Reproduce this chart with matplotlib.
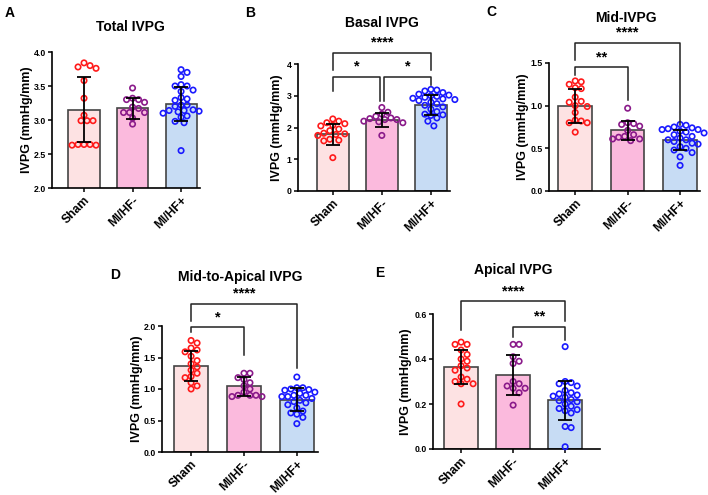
import matplotlib
matplotlib.use("Agg")
import matplotlib.pyplot as plt
import numpy as np

plt.rcParams['font.family'] = ['Liberation Sans', 'DejaVu Sans']
plt.rcParams['font.weight'] = 'bold'

W, H = 708, 495

groups = ["Sham", "MI/HF-", "MI/HF+"]
fill_colors = ["#fde2e3", "#fbbadd", "#c7dcf4"]
dot_colors = ["#ff1a1a", "#8a1a8a", "#1a1aff"]

# values, one list per group
total_sham = [3.80, 3.84, 3.76, 3.78, 3.58, 3.32, 3.07, 2.99, 2.99, 2.99, 2.63, 2.64, 2.64, 2.64, 2.63]
total_hfm = [3.30, 3.47, 3.32, 3.30, 3.26, 3.19, 3.17, 3.11, 3.11, 3.11, 3.03, 2.94]
total_hfp = [3.74, 3.70, 3.64, 3.52, 3.50, 3.50, 3.44, 3.42, 3.33, 3.31, 3.29, 3.22, 3.22,
             3.20, 3.15, 3.14, 3.14, 3.13, 3.12, 3.10, 3.06, 3.04, 2.98, 2.96, 2.55]
total_mean = [3.15, 3.17, 3.24]
total_sd = [0.48, 0.16, 0.25]

basal_sham = [2.27, 2.20, 2.15, 2.12, 2.07, 2.05, 1.95, 1.90, 1.82, 1.80, 1.78, 1.75, 1.63, 1.60, 1.58, 1.05]
basal_hfm = [2.63, 2.48, 2.42, 2.35, 2.30, 2.28, 2.25, 2.25, 2.20, 2.18, 2.15, 1.75]
basal_hfp = [3.20, 3.18, 3.15, 3.10, 3.05, 3.02, 3.00, 2.98, 2.95, 2.92, 2.90, 2.88, 2.85,
             2.80, 2.75, 2.70, 2.65, 2.58, 2.50, 2.42, 2.40, 2.38, 2.30, 2.20, 2.05]
basal_mean = [1.78, 2.24, 2.71]
basal_sd = [0.33, 0.22, 0.32]

mid_sham = [1.29, 1.28, 1.25, 1.21, 1.20, 1.10, 1.05, 1.04, 1.00, 0.99, 0.92, 0.83, 0.82, 0.80, 0.80, 0.69]
mid_hfm = [0.97, 0.80, 0.79, 0.78, 0.76, 0.71, 0.66, 0.64, 0.63, 0.61, 0.61, 0.59]
mid_hfp = [0.78, 0.77, 0.75, 0.74, 0.73, 0.72, 0.72, 0.70, 0.69, 0.68, 0.66, 0.64, 0.62,
           0.60, 0.60, 0.58, 0.56, 0.55, 0.52, 0.50, 0.48, 0.45, 0.40, 0.30]
mid_mean = [1.00, 0.71, 0.60]
mid_sd = [0.20, 0.11, 0.12]

mta_sham = [1.77, 1.73, 1.65, 1.62, 1.59, 1.52, 1.45, 1.40, 1.35, 1.30, 1.25, 1.20, 1.18, 1.10, 1.05, 1.00]
mta_hfm = [1.25, 1.25, 1.18, 1.15, 1.10, 1.05, 1.00, 0.95, 0.90, 0.90, 0.90, 0.88, 0.88]
mta_hfp = [1.19, 1.02, 1.02, 1.00, 0.99, 0.98, 0.95, 0.93, 0.90, 0.90, 0.88, 0.88, 0.85,
           0.82, 0.80, 0.78, 0.75, 0.70, 0.65, 0.62, 0.60, 0.55, 0.45]
mta_mean = [1.37, 1.04, 0.83]
mta_sd = [0.24, 0.15, 0.18]

api_sham = [0.475, 0.465, 0.465, 0.44, 0.42, 0.40, 0.39, 0.37, 0.36, 0.35, 0.32, 0.31, 0.30, 0.29, 0.29, 0.20]
api_hfm = [0.465, 0.465, 0.41, 0.39, 0.38, 0.30, 0.29, 0.28, 0.27, 0.27, 0.25, 0.195]
api_hfp = [0.455, 0.30, 0.295, 0.29, 0.28, 0.26, 0.25, 0.245, 0.24, 0.235, 0.23, 0.22,
           0.215, 0.21, 0.20, 0.19, 0.18, 0.175, 0.17, 0.16, 0.10, 0.095, 0.01]
api_mean = [0.364, 0.33, 0.216]
api_sd = [0.077, 0.089, 0.088]

# per panel: axes box in pixels (left, top, right, bottom), text spots in pixels,
# brackets as (x1, x2, top, left leg end, right leg end, label)
panels = [
    dict(letter="A", title="Total IVPG", data=[total_sham, total_hfm, total_hfp],
         mean=total_mean, sd=total_sd, ylim=(2.0, 4.0), yticks=[2.0, 2.5, 3.0, 3.5, 4.0], fmt="%.1f",
         box=(52, 52, 200, 188), xlim=(-0.66, 2.39), title_xy=(130, 27), letter_xy=(10, 13), ylab_x=27,
         brackets=[]),
    dict(letter="B", title="Basal IVPG", data=[basal_sham, basal_hfm, basal_hfp],
         mean=basal_mean, sd=basal_sd, ylim=(0, 4), yticks=[0, 1, 2, 3, 4], fmt="%d",
         box=(298, 64, 450, 191), xlim=(-0.71, 2.39), title_xy=(382, 23), letter_xy=(250, 13), ylab_x=277,
         brackets=[(0, 0.96, 3.59, 3.15, 2.85, "*"), (1.04, 2, 3.59, 2.85, 3.35, "*"),
                   (0, 2, 4.35, 3.80, 3.80, "****")]),
    dict(letter="C", title="Mid-IVPG", data=[mid_sham, mid_hfm, mid_hfp],
         mean=mid_mean, sd=mid_sd, ylim=(0, 1.5), yticks=[0.0, 0.5, 1.0, 1.5], fmt="%.1f",
         box=(549, 63, 700, 191), xlim=(-0.5, 2.38), title_xy=(626, 18), letter_xy=(491, 12), ylab_x=523,
         brackets=[(0, 1, 1.45, 1.36, 1.07, "**"), (0, 2, 1.735, 1.54, 0.77, "****")]),
    dict(letter="D", title="Mid-to-Apical IVPG", data=[mta_sham, mta_hfm, mta_hfp],
         mean=mta_mean, sd=mta_sd, ylim=(0, 2.0), yticks=[0.0, 0.5, 1.0, 1.5, 2.0], fmt="%.1f",
         box=(162, 326, 318, 452), xlim=(-0.55, 2.4), title_xy=(240, 277), letter_xy=(115, 275), ylab_x=137,
         brackets=[(0, 1, 1.98, 1.91, 1.54, "*"), (0, 2, 2.35, 2.08, 1.33, "****")]),
    dict(letter="E", title="Apical IVPG", data=[api_sham, api_hfm, api_hfp],
         mean=api_mean, sd=api_sd, ylim=(0, 0.6), yticks=[0.0, 0.2, 0.4, 0.6], fmt="%.1f",
         box=(433, 314, 600, 449), xlim=(-0.54, 2.67), title_xy=(513, 270), letter_xy=(380, 273), ylab_x=406,
         brackets=[(1, 2, 0.542, 0.50, 0.486, "**"), (0, 2, 0.656, 0.53, 0.57, "****")]),
]

DOT_PX = 6.0


def swarm_offsets(ax, xc, vals, d):
    # simple beeswarm in pixel space, returns x in data units
    pts = ax.transData.transform(np.column_stack([np.full(len(vals), xc), vals]))
    order = np.argsort(-np.asarray(vals))
    placed = []
    xs = np.zeros(len(vals))
    for i in order:
        px, py = pts[i]
        cands = [0.0]
        for k in range(1, 16):
            cands += [k * d * 0.5, -k * d * 0.5]
        for c in cands:
            if all((px + c - qx) ** 2 + (py - qy) ** 2 >= d ** 2 for qx, qy in placed):
                break
        placed.append((px + c, py))
        xs[i] = ax.transData.inverted().transform((px + c, py))[0]
    return xs


fig = plt.figure(figsize=(W / 100, H / 100), dpi=100)

for p in panels:
    l, t, r, b = p["box"]
    ax = fig.add_axes([l / W, 1 - b / H, (r - l) / W, (b - t) / H])
    ax.set_xlim(*p["xlim"])
    ax.set_ylim(*p["ylim"])
    x = np.arange(3)
    ax.bar(x, p["mean"], width=0.64, color=fill_colors, edgecolor="#444444", linewidth=1.2, zorder=1)
    for i in range(3):
        xs = swarm_offsets(ax, i, p["data"][i], DOT_PX)
        ax.scatter(xs, p["data"][i], s=15, facecolors="none", edgecolors=dot_colors[i],
                   linewidths=1.2, zorder=3, clip_on=False)
    ax.errorbar(x, p["mean"], yerr=p["sd"], fmt="none", ecolor="black", elinewidth=1.3,
                capsize=5.2, capthick=1.3, zorder=4)

    for (x1, x2, ytop, y1, y2, lab) in p["brackets"]:
        ax.plot([x1, x1, x2, x2], [y1, ytop, ytop, y2], color="#222222", lw=1.1,
                clip_on=False, zorder=5)
        ax.text((x1 + x2) / 2, ytop + (p["ylim"][1] - p["ylim"][0]) * 0.025, lab,
                ha="center", va="bottom", fontsize=10.5, fontweight="bold", clip_on=False)

    ax.spines["top"].set_visible(False)
    ax.spines["right"].set_visible(False)
    for s in ["left", "bottom"]:
        ax.spines[s].set_linewidth(1.2)
    ax.set_yticks(p["yticks"])
    ax.set_yticklabels([p["fmt"] % v for v in p["yticks"]], fontsize=6.3, fontweight="bold")
    ax.set_xticks(x)
    ax.set_xticklabels(groups, rotation=45, ha="right", rotation_mode="anchor",
                       fontsize=8.7, fontweight="bold")
    ax.tick_params(length=3, width=1.1, pad=1.5)

    fig.text(p["title_xy"][0] / W, 1 - p["title_xy"][1] / H, p["title"], ha="center", va="center",
             fontsize=10, fontweight="bold")
    fig.text(p["letter_xy"][0] / W, 1 - p["letter_xy"][1] / H, p["letter"], ha="center", va="center",
             fontsize=10, fontweight="bold")
    fig.text(p["ylab_x"] / W, 1 - (t + b) / 2 / H, "IVPG (mmHg/mm)", rotation=90, ha="center",
             va="center", fontsize=9, fontweight="bold")

fig.savefig("out.png", dpi=100)
